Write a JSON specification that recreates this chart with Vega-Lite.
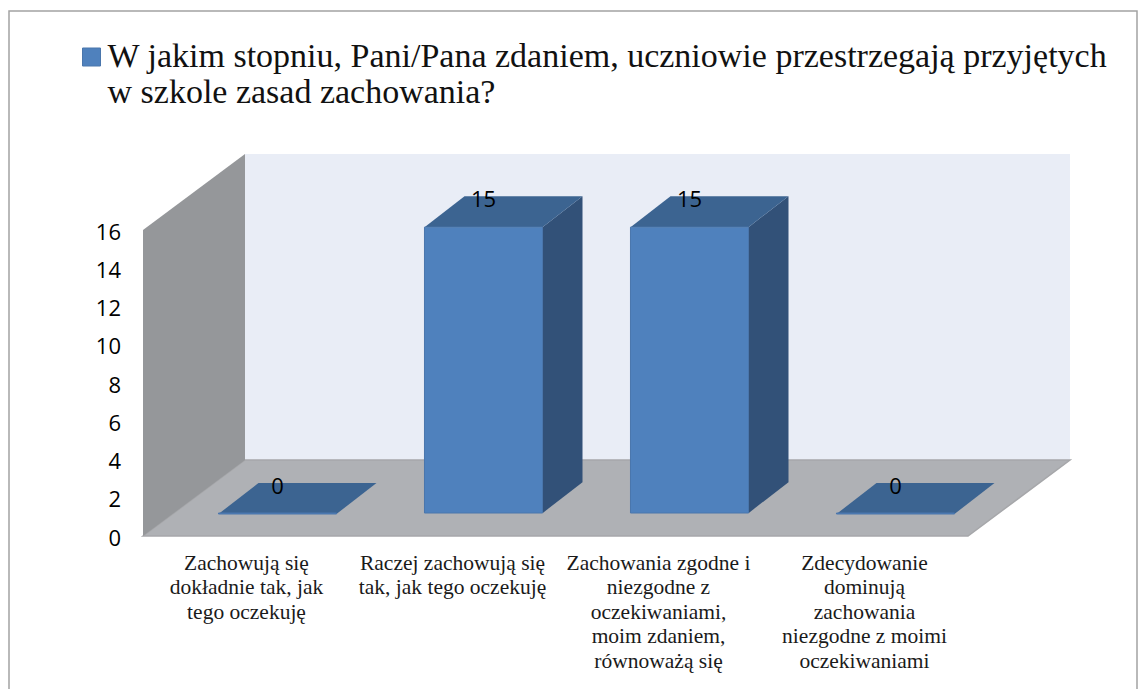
{
  "$schema": "https://vega.github.io/schema/vega-lite/v6.json",
  "width": 824,
  "height": 306,
  "autosize": "none",
  "padding": {"left": 174.5, "top": 230, "right": 149.5, "bottom": 153},
  "background": "white",
  "view": {"stroke": null},
  "datasets": {
    "answers": [
      {"category": "Zachowują się\ndokładnie tak, jak\ntego oczekuję", "value": 0, "series": "W jakim stopniu, Pani/Pana zdaniem, uczniowie przestrzegają przyjętych\nw szkole zasad zachowania?"},
      {"category": "Raczej zachowują się\ntak, jak tego oczekuję", "value": 15, "series": "W jakim stopniu, Pani/Pana zdaniem, uczniowie przestrzegają przyjętych\nw szkole zasad zachowania?"},
      {"category": "Zachowania zgodne i\nniezgodne z\noczekiwaniami,\nmoim zdaniem,\nrównoważą się", "value": 15, "series": "W jakim stopniu, Pani/Pana zdaniem, uczniowie przestrzegają przyjętych\nw szkole zasad zachowania?"},
      {"category": "Zdecydowanie\ndominują\nzachowania\nniezgodne z moimi\noczekiwaniami", "value": 0, "series": "W jakim stopniu, Pani/Pana zdaniem, uczniowie przestrzegają przyjętych\nw szkole zasad zachowania?"}
    ],
    "origin": [{"anchor": "Zachowują się\ndokładnie tak, jak\ntego oczekuję", "base": 0}]
  },
  "encoding": {
    "x": {
      "field": "category",
      "type": "nominal",
      "sort": null,
      "title": null,
      "scale": {
        "type": "band",
        "domain": [
          "Zachowują się\ndokładnie tak, jak\ntego oczekuję",
          "Raczej zachowują się\ntak, jak tego oczekuję",
          "Zachowania zgodne i\nniezgodne z\noczekiwaniami,\nmoim zdaniem,\nrównoważą się",
          "Zdecydowanie\ndominują\nzachowania\nniezgodne z moimi\noczekiwaniami"
        ],
        "paddingInner": 0.427,
        "paddingOuter": 0.2135
      },
      "axis": {
        "labelExpr": "split(datum.label, '\\n')",
        "labelAngle": 0,
        "labelAlign": "center",
        "labelBaseline": "top",
        "labelOffset": -31,
        "labelPadding": 16,
        "labelLimit": 0,
        "labelOverlap": false,
        "labelFont": "Liberation Serif",
        "labelFontSize": 21.5,
        "labelLineHeight": 24.6,
        "labelColor": "#1a1a1a",
        "ticks": false,
        "domain": false,
        "grid": false
      }
    },
    "y": {
      "field": "value",
      "type": "quantitative",
      "title": null,
      "scale": {"domain": [0, 16], "nice": false},
      "axis": {
        "values": [0, 2, 4, 6, 8, 10, 12, 14, 16],
        "labelFont": "Open Sans",
        "labelFontSize": 22,
        "labelColor": "#000000",
        "labelPadding": 54,
        "labelOffset": 2,
        "ticks": false,
        "domain": false,
        "grid": false
      }
    }
  },
  "layer": [
    {
      "data": {"name": "origin"},
      "mark": {"type": "point", "filled": true, "size": 4, "opacity": 1, "fill": "#e9edf6", "stroke": null, "shape": "M-32.5,-382L792.5,-382L792.5,-76L-32.5,-76Z"},
      "encoding": {
        "x": {"field": "anchor", "type": "nominal"},
        "y": {"field": "base", "type": "quantitative"}
      }
    },
    {
      "data": {"name": "origin"},
      "mark": {"type": "point", "filled": true, "size": 4, "opacity": 1, "stroke": "#a6a7aa", "strokeWidth": 1.5, "fill": "#afb1b5", "shape": "M-134.5,0L-32.5,-76L792.5,-76L690.5,0Z"},
      "encoding": {
        "x": {"field": "anchor", "type": "nominal"},
        "y": {"field": "base", "type": "quantitative"}
      }
    },
    {
      "data": {"name": "origin"},
      "mark": {"type": "point", "filled": true, "size": 4, "opacity": 1, "fill": "#95979a", "stroke": null, "shape": "M-134.5,-306L-32.5,-382L-32.5,-76L-134.5,0Z"},
      "encoding": {
        "x": {"field": "anchor", "type": "nominal"},
        "y": {"field": "base", "type": "quantitative"}
      }
    },
    {
      "data": {"name": "origin"},
      "mark": {"type": "point", "filled": false, "size": 4, "opacity": 1, "stroke": "#a3a3a3", "strokeWidth": 1.5, "shape": "M-268.5,153L-268.5,-525L859.5,-525L859.5,153"},
      "encoding": {
        "x": {"field": "anchor", "type": "nominal"},
        "y": {"field": "base", "type": "quantitative"}
      }
    },
    {
      "data": {"name": "answers"},
      "transform": [{"filter": "datum.value > 0"}],
      "mark": {"type": "point", "filled": true, "size": 4, "opacity": 1, "fill": "#325178", "stroke": null, "shape": "M59,-22L99,-53L99,233L59,264Z"}
    },
    {
      "data": {"name": "answers"},
      "mark": {"type": "point", "filled": true, "size": 4, "opacity": 1, "fill": "#3c6491", "stroke": null, "shape": "M-59,-22L59,-22L99,-53L-19,-53Z"}
    },
    {
      "data": {"name": "answers"},
      "mark": {"type": "bar", "yOffset": -22, "y2Offset": -23, "stroke": "#4a76ac", "strokeWidth": 1},
      "encoding": {
        "y2": {"datum": 0},
        "color": {
          "field": "series",
          "type": "nominal",
          "scale": {"range": ["#4f81bd"]},
          "legend": {
            "title": null,
            "orient": "none",
            "legendX": -100,
            "legendY": -190,
            "symbolType": "square",
            "symbolSize": 324,
            "symbolStrokeColor": "#4a76ac",
            "symbolStrokeWidth": 1,
            "labelExpr": "split(datum.label, '\\n')",
            "labelFont": "Liberation Serif",
            "labelFontSize": 34,
            "labelLineHeight": 37,
            "labelLimit": 0,
            "labelColor": "#111111",
            "labelOffset": -1,
            "columnPadding": 0
          }
        }
      }
    },
    {
      "data": {"name": "answers"},
      "mark": {"type": "text", "font": "Open Sans", "fontSize": 22, "color": "#000000", "yOffset": -49, "baseline": "middle"},
      "encoding": {"text": {"field": "value", "type": "quantitative"}}
    }
  ]
}
